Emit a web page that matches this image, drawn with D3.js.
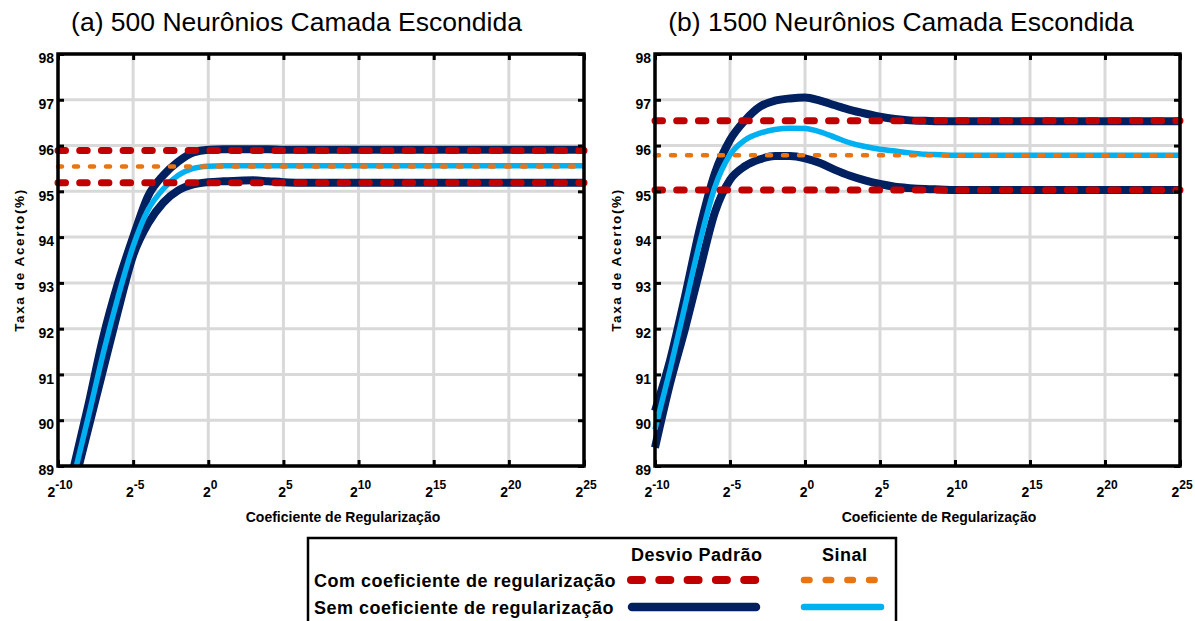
<!DOCTYPE html>
<html>
<head>
<meta charset="utf-8">
<script src="https://cdn.jsdelivr.net/npm/d3@7"></script>
<style>
  body { margin: 0; background: #fff; }
  svg { display: block; font-family: "Liberation Sans", Arial, Helvetica, sans-serif; }
</style>
</head>
<body>
<svg id="chart" width="1195" height="621"></svg>
<script>
// Regularization coefficient exponents (x = 2^e)
const exponents = [-10, -9, -8, -7, -6, -5, -4, -3, -2, -1, 0, 1, 2, 3, 4, 5, 6, 7, 8, 9, 10,
                   11, 12, 13, 14, 15, 16, 17, 18, 19, 20, 21, 22, 23, 24, 25];
const xTicks = [-10, -5, 0, 5, 10, 15, 20, 25];
const yTicks = [89, 90, 91, 92, 93, 94, 95, 96, 97, 98];

// (a) 500 hidden neurons, without regularization: mean and ± standard deviation
const semMeanA  = [87.4, 88.7, 90.05, 91.45, 92.7, 93.8, 94.6, 95.05, 95.35, 95.5, 95.55, 95.56, 95.56, 95.56, 95.56, 95.56, 95.56, 95.56,
                   95.56, 95.56, 95.56, 95.56, 95.56, 95.56, 95.56, 95.56, 95.56, 95.56, 95.56, 95.56, 95.56, 95.56, 95.56, 95.56, 95.56, 95.56];
const semUpperA = [87.6, 88.9, 90.3, 91.8, 93.0, 94.0, 94.9, 95.35, 95.65, 95.85, 95.91, 95.92, 95.92, 95.92, 95.92, 95.91, 95.91, 95.91,
                   95.91, 95.91, 95.91, 95.91, 95.91, 95.91, 95.91, 95.91, 95.91, 95.91, 95.91, 95.91, 95.91, 95.91, 95.91, 95.91, 95.91, 95.91];
const semLowerA = [87.2, 88.5, 89.8, 91.1, 92.4, 93.6, 94.3, 94.75, 95.02, 95.15, 95.2, 95.22, 95.23, 95.24, 95.22, 95.2, 95.19, 95.19,
                   95.19, 95.19, 95.19, 95.19, 95.19, 95.19, 95.19, 95.19, 95.19, 95.19, 95.19, 95.19, 95.19, 95.19, 95.19, 95.19, 95.19, 95.19];
// (a) with regularization: standard deviation band and signal level
const comStdA   = [95.19, 95.89];
const comSinalA = 95.54;

// (b) 1500 hidden neurons, without regularization
const semMeanB  = [89.8, 91.1, 92.5, 93.9, 95.1, 95.8, 96.12, 96.27, 96.35, 96.38, 96.37, 96.3, 96.18, 96.06, 95.98, 95.92, 95.88, 95.84,
                   95.81, 95.8, 95.79, 95.79, 95.79, 95.79, 95.79, 95.79, 95.79, 95.79, 95.79, 95.79, 95.79, 95.79, 95.79, 95.79, 95.79, 95.79];
const semUpperB = [90.2, 91.3, 92.7, 94.2, 95.4, 96.12, 96.55, 96.85, 96.98, 97.03, 97.05, 96.98, 96.88, 96.78, 96.7, 96.63, 96.58, 96.55,
                   96.54, 96.53, 96.53, 96.53, 96.53, 96.53, 96.53, 96.53, 96.53, 96.53, 96.53, 96.53, 96.53, 96.53, 96.53, 96.53, 96.53, 96.53];
const semLowerB = [89.4, 90.8, 92.0, 93.3, 94.55, 95.25, 95.55, 95.7, 95.77, 95.77, 95.72, 95.62, 95.47, 95.34, 95.24, 95.16, 95.1, 95.07,
                   95.05, 95.04, 95.03, 95.03, 95.03, 95.03, 95.03, 95.03, 95.03, 95.03, 95.03, 95.03, 95.03, 95.03, 95.03, 95.03, 95.03, 95.03];
// (b) with regularization
const comStdB   = [95.03, 96.54];
const comSinalB = 95.79;

const COLORS = { navy: "#002060", sky: "#00B0F0", red: "#C00000", orange: "#E87511", grid: "#D9D9D9" };

const svg = d3.select("#chart");
const TOP = 54, BOTTOM = 466;

const panels = [
  { id: "a", title: "(a) 500 Neurônios Camada Escondida", x0: 58, x1: 584, titleX: 296.5, xLabelX: 343, yLabelX: 24,
    mean: semMeanA, upper: semUpperA, lower: semLowerA, std: comStdA, sinal: comSinalA },
  { id: "b", title: "(b) 1500 Neurônios Camada Escondida", x0: 655, x1: 1180, titleX: 901, xLabelX: 939, yLabelX: 621,
    mean: semMeanB, upper: semUpperB, lower: semLowerB, std: comStdB, sinal: comSinalB }
];

panels.forEach(p => {
  const x = d3.scaleLinear().domain([-10, 25]).range([p.x0, p.x1]);
  const y = d3.scaleLinear().domain([89, 98]).range([BOTTOM, TOP]);
  const g = svg.append("g");

  // grid
  g.append("g").selectAll("line").data(xTicks).join("line")
    .attr("x1", d => x(d)).attr("x2", d => x(d)).attr("y1", TOP).attr("y2", BOTTOM)
    .attr("stroke", COLORS.grid).attr("stroke-width", 3);
  g.append("g").selectAll("line").data(yTicks).join("line")
    .attr("y1", d => y(d)).attr("y2", d => y(d)).attr("x1", p.x0).attr("x2", p.x1)
    .attr("stroke", COLORS.grid).attr("stroke-width", 3);

  // clip for the curves (cut at the plot's y range)
  svg.append("clipPath").attr("id", "clip-" + p.id)
    .append("rect").attr("x", p.x0 - 6).attr("y", TOP).attr("width", p.x1 - p.x0 + 12).attr("height", BOTTOM - TOP);

  const line = (vals) => d3.line().curve(d3.curveMonotoneX)
    .x((d, i) => x(exponents[i])).y(d => y(d))(vals);

  const curves = g.append("g").attr("clip-path", `url(#clip-${p.id})`);
  [p.upper, p.lower].forEach(vals => {
    curves.append("path").attr("d", line(vals)).attr("fill", "none")
      .attr("stroke", COLORS.navy).attr("stroke-width", 8).attr("stroke-linejoin", "round");
  });
  curves.append("path").attr("d", line(p.mean)).attr("fill", "none")
    .attr("stroke", COLORS.sky).attr("stroke-width", 5.5).attr("stroke-linejoin", "round");

  // with-regularization constant levels
  const flat = v => d3.line().x(d => x(d)).y(() => y(v))([-10, 25]);
  p.std.forEach(v => {
    g.append("path").attr("d", flat(v)).attr("fill", "none")
      .attr("stroke", COLORS.red).attr("stroke-width", 7)
      .attr("stroke-linecap", "round").attr("stroke-dasharray", "7.5,14.2");
  });
  g.append("path").attr("d", flat(p.sinal)).attr("fill", "none")
    .attr("stroke", COLORS.orange).attr("stroke-width", 4.5)
    .attr("stroke-linecap", "round").attr("stroke-dasharray", "4,12");

  // frame
  g.append("rect").attr("x", p.x0).attr("y", TOP).attr("width", p.x1 - p.x0).attr("height", BOTTOM - TOP)
    .attr("fill", "none").attr("stroke", "#000").attr("stroke-width", 3.5);

  // inward ticks on all four sides
  const tickStyle = sel => {
    sel.select(".domain").remove();
    sel.selectAll(".tick line").attr("stroke", "#000").attr("stroke-width", 3);
  };
  g.append("g").attr("transform", `translate(0,${BOTTOM})`)
    .call(d3.axisBottom(x).tickValues(xTicks).tickSize(-6).tickFormat("")).call(tickStyle);
  g.append("g").attr("transform", `translate(0,${TOP})`)
    .call(d3.axisTop(x).tickValues(xTicks).tickSize(-6).tickFormat("")).call(tickStyle);
  g.append("g").attr("transform", `translate(${p.x1},0)`)
    .call(d3.axisRight(y).tickValues(yTicks).tickSize(-6).tickFormat("")).call(tickStyle);
  const yAx = g.append("g").attr("transform", `translate(${p.x0},0)`)
    .call(d3.axisLeft(y).tickValues(yTicks).tickSize(-6).tickPadding(4)).call(tickStyle);
  yAx.selectAll(".tick text").attr("dy", "0.62em")
    .attr("font-size", 14).attr("font-weight", "bold").attr("fill", "#000")
    .attr("font-family", "'Liberation Sans', Arial, sans-serif");

  // x tick labels: 2 with a superscript exponent
  const xl = g.append("g").selectAll("text").data(xTicks).join("text")
    .attr("x", d => x(d) + 2).attr("y", 497).attr("text-anchor", "middle")
    .attr("font-weight", "bold").attr("fill", "#000");
  xl.append("tspan").attr("font-size", 14).text("2");
  xl.append("tspan").attr("font-size", 12).attr("dy", -8).text(d => d);

  // titles and axis labels
  g.append("text").attr("x", p.titleX).attr("y", 31).attr("text-anchor", "middle")
    .attr("font-size", 26.5).attr("fill", "#000").text(p.title);
  g.append("text").attr("x", p.xLabelX).attr("y", 522).attr("text-anchor", "middle")
    .attr("font-size", 14).attr("font-weight", "bold").attr("fill", "#000")
    .text("Coeficiente de Regularização");
  g.append("text").attr("transform", `translate(${p.yLabelX},260) rotate(-90)`)
    .attr("text-anchor", "middle").attr("font-size", 13.5).attr("font-weight", "bold")
    .attr("letter-spacing", 1.6).attr("fill", "#000").text("Taxa de Acerto(%)");
});

// legend
const lg = svg.append("g");
lg.append("rect").attr("x", 308).attr("y", 538).attr("width", 588).attr("height", 100)
  .attr("fill", "#fff").attr("stroke", "#000").attr("stroke-width", 2.5);
const legendText = (tx, ty, s) => lg.append("text").attr("x", tx).attr("y", ty)
  .attr("font-size", 18).attr("font-weight", "bold").attr("letter-spacing", 0.5).attr("fill", "#000").text(s);
legendText(631, 561, "Desvio Padrão");
legendText(822, 561, "Sinal");
legendText(314, 587, "Com coeficiente de regularização");
legendText(314, 614, "Sem coeficiente de regularização");

const seg = (xa, xb, yy) => d3.line()([[xa, yy], [xb, yy]]);
lg.append("path").attr("d", seg(631, 756, 580)).attr("stroke", COLORS.red).attr("stroke-width", 8)
  .attr("stroke-linecap", "round").attr("stroke-dasharray", "11,17.3").attr("fill", "none");
lg.append("path").attr("d", seg(804, 877, 580)).attr("stroke", COLORS.orange).attr("stroke-width", 6.5)
  .attr("stroke-linecap", "round").attr("stroke-dasharray", "5.5,16.2").attr("fill", "none");
lg.append("path").attr("d", seg(632, 756, 607)).attr("stroke", COLORS.navy).attr("stroke-width", 8.5)
  .attr("stroke-linecap", "round").attr("fill", "none");
lg.append("path").attr("d", seg(804, 881, 607)).attr("stroke", COLORS.sky).attr("stroke-width", 6.5)
  .attr("stroke-linecap", "round").attr("fill", "none");
</script>
</body>
</html>
